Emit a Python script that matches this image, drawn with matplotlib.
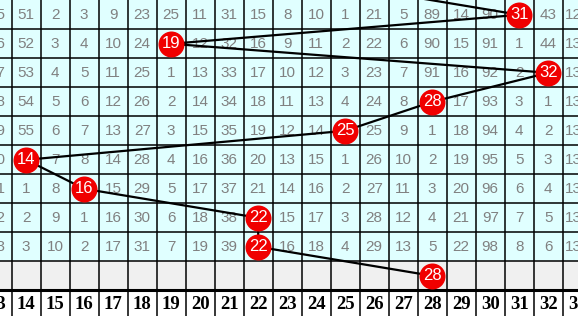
import matplotlib
matplotlib.use("Agg")
import matplotlib.pyplot as plt

# columnas visibles (13 y 33 salen cortadas)
cols = list(range(13, 34))

# tabla de omisiones, None donde va la bola roja
rows = [
    [15, 51, 2, 3, 9, 23, 25, 11, 31, 15, 8, 10, 1, 21, 5, 89, 14, 90, None, 43, 129],
    [16, 52, 3, 4, 10, 24, None, 12, 32, 16, 9, 11, 2, 22, 6, 90, 15, 91, 1, 44, 130],
    [17, 53, 4, 5, 11, 25, 1, 13, 33, 17, 10, 12, 3, 23, 7, 91, 16, 92, 2, None, 131],
    [18, 54, 5, 6, 12, 26, 2, 14, 34, 18, 11, 13, 4, 24, 8, None, 17, 93, 3, 1, 132],
    [19, 55, 6, 7, 13, 27, 3, 15, 35, 19, 12, 14, None, 25, 9, 1, 18, 94, 4, 2, 133],
    [20, None, 7, 8, 14, 28, 4, 16, 36, 20, 13, 15, 1, 26, 10, 2, 19, 95, 5, 3, 134],
    [21, 1, 8, None, 15, 29, 5, 17, 37, 21, 14, 16, 2, 27, 11, 3, 20, 96, 6, 4, 135],
    [22, 2, 9, 1, 16, 30, 6, 18, 38, None, 15, 17, 3, 28, 12, 4, 21, 97, 7, 5, 136],
    [23, 3, 10, 2, 17, 31, 7, 19, 39, None, 16, 18, 4, 29, 13, 5, 22, 98, 8, 6, 137],
]

# numeros sorteados por fila (el primero queda fuera de la vista)
prev_draw = 25
draws = [31, 19, 32, 28, 25, 14, 16, 22, 22, 28]

fig = plt.figure(figsize=(5.78, 3.16), dpi=100)
ax = fig.add_axes([0, 0, 1, 1])
ax.axis("off")

n_rows = len(rows)
x0 = 13.5 - 11.7 / 29
ax.set_xlim(x0, x0 + 578 / 29)
ax.set_ylim(-0.51 + 316 / 29, -0.51)

# fondos
ax.axhspan(-0.5, n_rows - 0.5, color="#e0ffff", zorder=0)
ax.axhspan(n_rows - 0.5, n_rows + 0.5, color="#f0f0f0", zorder=0)
ax.axhspan(n_rows + 0.5, n_rows + 1.5, color="white", zorder=0)

# rejilla
for c in cols:
    ax.axvline(c - 0.5, color="black", lw=1.1, zorder=1)
ax.axvline(cols[-1] + 0.5, color="black", lw=1.1, zorder=1)
for r in range(n_rows + 1):
    ax.axhline(r + 0.5, color="black", lw=1.1, zorder=1)
ax.axhline(n_rows + 0.5, color="black", lw=2.2, zorder=1)

# numeros de la tabla
for r, fila in enumerate(rows):
    for c, v in zip(cols, fila):
        if v is None:
            continue
        ax.text(c, r, str(v), ha="center", va="center", color="#808080",
                fontsize=11, family="Liberation Sans", zorder=2)

# cabecera
for c in cols:
    ax.text(c, n_rows + 1, str(c), ha="center", va="center", color="black",
            fontsize=13.5, fontweight="bold", family="Liberation Serif", zorder=2)

# linea de tendencia y bolas
ys = [-1] + list(range(len(draws)))
xs = [prev_draw] + draws
ax.plot(xs, ys, color="black", lw=1.6, zorder=3)
ax.scatter(draws, range(len(draws)), s=350, color="#f00000", zorder=4,
           linewidths=0)
for r, d in enumerate(draws):
    ax.text(d, r, str(d), ha="center", va="center", color="white",
            fontsize=12, family="Liberation Sans", zorder=5)

fig.savefig("out.png", dpi=100)
